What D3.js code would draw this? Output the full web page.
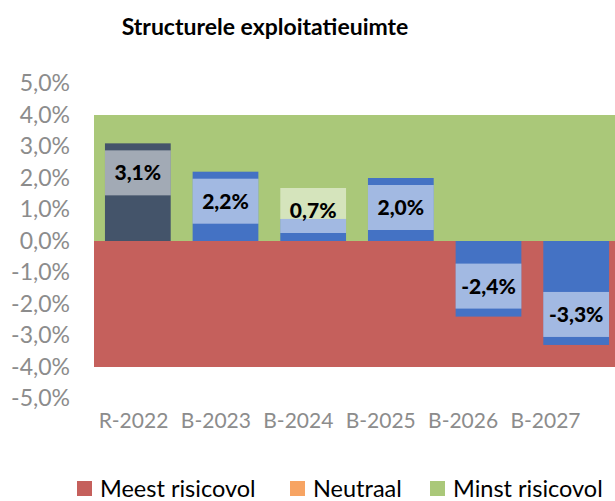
<!DOCTYPE html>
<html>
<head>
<meta charset="utf-8">
<script src="https://cdn.jsdelivr.net/npm/d3@7"></script>
<style>
  body { margin: 0; background: #fff; }
  svg { display: block; font-family: Lato, "Open Sans", sans-serif; }
</style>
</head>
<body>
<svg id="chart" width="615" height="501"></svg>
<script>
// data
const categories = ["R-2022", "B-2023", "B-2024", "B-2025", "B-2026", "B-2027"];
const values = [3.1, 2.2, 0.7, 2.0, -2.4, -3.3];
const yTicks = [5, 4, 3, 2, 1, 0, -1, -2, -3, -4, -5];

// risk zones (background) and legend
const zoneNames = ["Meest risicovol", "Neutraal", "Minst risicovol"];
const zoneLow = [-4, 0, 0];
const zoneHigh = [0, 0, 4];
const zoneColors = ["#c5605c", "#f7a463", "#aac879"];

const svg = d3.select("#chart");
const nl = d3.formatLocale({decimal: ",", thousands: ".", grouping: [3], currency: ["€", ""], minus: "-"});
const fmt = v => nl.format(".1f")(v) + "%";

const y = d3.scaleLinear().domain([-5, 5]).range([398.5, 83.5]);
const x = d3.scaleBand().domain(categories).range([94, 620])
    .paddingInner(0.25).paddingOuter(0.125);
// category text sits on its own slightly narrower grid in the original
const xLab = d3.scalePoint().domain(categories).range([133, 545]);

// title
svg.append("text")
    .attr("x", 265).attr("y", 35)
    .attr("text-anchor", "middle")
    .style("font-weight", "bold").style("font-size", "23px")
    .style("fill", "#000")
    .text("Structurele exploitatieuimte");

// background zones
svg.append("g").selectAll("rect")
    .data(zoneNames)
    .enter().append("rect")
    .attr("x", 94)
    .attr("width", 615 - 94 + 10)
    .attr("y", (d, i) => y(zoneHigh[i]))
    .attr("height", (d, i) => y(zoneLow[i]) - y(zoneHigh[i]))
    .attr("fill", (d, i) => zoneColors[i]);

// y axis (labels only)
const yAxis = d3.axisLeft(y).tickValues(yTicks).tickFormat(fmt).tickSize(0).tickPadding(0);
const gy = svg.append("g").attr("transform", "translate(70,0)").call(yAxis);
gy.select(".domain").remove();
gy.selectAll("text")
    .style("font-family", "Lato, sans-serif")
    .style("font-size", "23px")
    .style("fill", "#8c8c8c");

// bars
svg.append("g").selectAll("rect")
    .data(values)
    .enter().append("rect")
    .attr("x", (d, i) => x(categories[i]))
    .attr("width", x.bandwidth())
    .attr("y", d => y(Math.max(0, d)))
    .attr("height", d => Math.abs(y(d) - y(0)))
    .attr("fill", (d, i) => i === 0 ? "#44546a" : "#4472c4");

// data labels
const boxH = 45;
function boxTop(d) {
    if (d >= 0) return Math.min(y(d) + 7, y(0) - 8 - boxH);
    return y(d) - 8 - boxH;
}
const lab = svg.append("g").selectAll("g")
    .data(values)
    .enter().append("g");
lab.append("rect")
    .attr("x", (d, i) => x(categories[i]))
    .attr("width", x.bandwidth())
    .attr("y", boxTop)
    .attr("height", boxH)
    .attr("fill", "#fff")
    .attr("fill-opacity", 0.5);
lab.append("text")
    .attr("x", (d, i) => x(categories[i]) + x.bandwidth() / 2)
    .attr("y", d => boxTop(d) + boxH / 2)
    .attr("dy", "0.36em")
    .attr("text-anchor", "middle")
    .style("font-weight", "900").style("font-size", "21px")
    .style("fill", "#000")
    .text(fmt);

// x axis (labels only)
const xAxis = d3.axisBottom(xLab).tickSize(0).tickPadding(0);
const gx = svg.append("g").attr("transform", "translate(0,412)").call(xAxis);
gx.select(".domain").remove();
gx.selectAll("text")
    .attr("dy", "0.75em")
    .style("font-family", "Lato, sans-serif")
    .style("font-size", "21px")
    .style("fill", "#8c8c8c");

// legend
const legX = [77, 290, 430];
const leg = svg.append("g").selectAll("g")
    .data(zoneNames)
    .enter().append("g")
    .attr("transform", (d, i) => "translate(" + legX[i] + ",481)");
leg.append("rect")
    .attr("width", 15).attr("height", 15)
    .attr("fill", (d, i) => zoneColors[i]);
leg.append("text")
    .attr("x", 23).attr("y", 8)
    .attr("dy", "0.36em")
    .style("font-size", "23.5px")
    .style("fill", "#000")
    .text(d => d);
</script>
</body>
</html>
